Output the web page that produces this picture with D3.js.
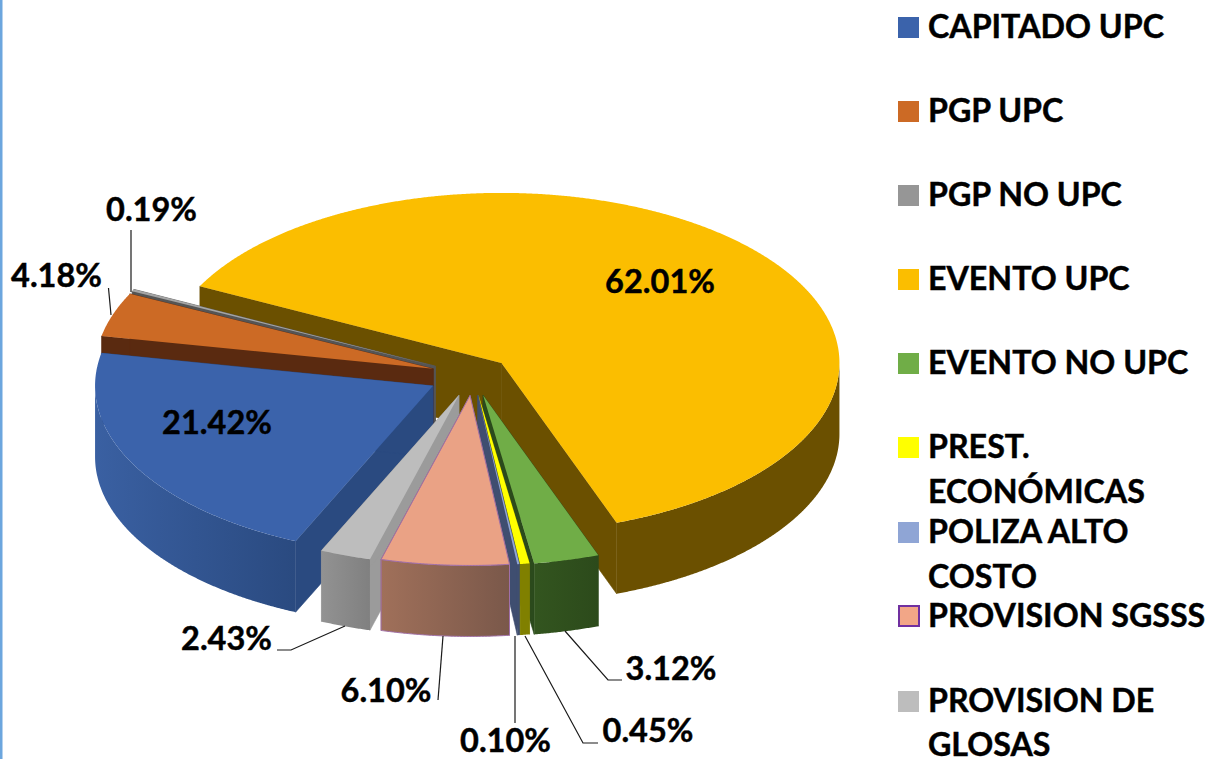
<!DOCTYPE html>
<html>
<head>
<meta charset="utf-8">
<script src="https://cdn.jsdelivr.net/npm/d3@7"></script>
<style>
    html, body { margin: 0; padding: 0; background: #fff; overflow: hidden; }
    text { font-family: Lato, "Open Sans", sans-serif; font-weight: 700; fill: #000; stroke: #000; stroke-width: 0.45px; }
</style>
</head>
<body>
<div id="chart"></div>
<script>
/* Chart data */
var categories = ["CAPITADO UPC", "PGP UPC", "PGP NO UPC", "EVENTO UPC", "EVENTO NO UPC",
                  "PREST. ECONÓMICAS", "POLIZA ALTO COSTO", "PROVISION SGSSS", "PROVISION DE GLOSAS"];
var shares = [21.42, 4.18, 0.19, 62.01, 3.12, 0.45, 0.10, 6.10, 2.43];
var shareLabels = ["21.42%", "4.18%", "0.19%", "62.01%", "3.12%", "0.45%", "0.10%", "6.10%", "2.43%"];
var legendLines = [["CAPITADO UPC"], ["PGP UPC"], ["PGP NO UPC"], ["EVENTO UPC"], ["EVENTO NO UPC"],
                   ["PREST.", "ECONÓMICAS"], ["POLIZA ALTO", "COSTO"], ["PROVISION SGSSS"], ["PROVISION DE", "GLOSAS"]];

/* Look of the slices */
var topColors  = ["#3b63ab", "#cc6a25", "#a5a5a5", "#fbbe00", "#70ad47", "#ffff00", "#8fa5d5", "#eaa285", "#bdbdbd"];
var keyColors  = ["#3b63ab", "#cc6a25", "#969696", "#fbbe00", "#70ad47", "#ffff00", "#8fa5d5", "#f2a687", "#bdbdbd"];
var sideColors = ["#2a4a80", "#5a2a10", "#555555", "#6b5000", "#2b4a1c", "#808000", "#3f4e70", "#8a6050", "#9b9b9b"];
var rimFrom    = ["#3a60a2", "#5a2a10", "#555555", "#6b5000", "#33551f", "#808000", "#3f4e70", "#a0705a", "#929292"];
var rimTo      = ["#2a4a80", "#5a2a10", "#555555", "#6b5000", "#2c4a1b", "#808000", "#3f4e70", "#7a584a", "#808080"];
var explode    = [45, 42, 42, 38, 41, 40, 40, 40, 42];

/* Layout of the labels: text anchor point and leader line */
var labelPos = [[217, 434], [56.5, 287], [151.5, 221], [660, 293], [671, 680], [648, 742], [505.5, 752], [386, 702], [226.5, 650]];
var leaders = [
    null,
    [[108.5, 288], [111, 315]],
    [[131, 230], [131, 292]],
    null,
    [[622, 680], [608, 680], [565, 631]],
    [[598, 743], [583, 743], [525, 636]],
    [[515, 723], [515, 636]],
    [[438, 700], [443, 636]],
    [[277, 650], [291, 650], [345, 626]]
];
var legendBaselines = [[38], [122], [206], [290], [374], [458, 503], [543, 588], [627], [712, 756]];

var width = 1209, height = 759;
var cx = 473, cy = 375.5;   /* centre of the pie before exploding */
var rx = 338, ry = 170;     /* radii of the top ellipse */
var depth = 71;             /* height of the extrusion */
var valueFont = 32.5, legendFont = 32.2;

var svg = d3.select("#chart").append("svg")
    .attr("width", width)
    .attr("height", height)
    .style("display", "block");

var defs = svg.append("defs");

/* Blue rule on the left border of the picture */
svg.append("rect")
    .attr("x", 0).attr("y", 0)
    .attr("width", 2.5).attr("height", height)
    .attr("fill", "#6ca6de");

/* Slice angles, clockwise from the first slice angle */
var firstAngle = 204 * Math.PI / 180;
var arcs = d3.pie().sort(null).value(function (d) { return d; })
    .startAngle(firstAngle)
    .endAngle(firstAngle + 2 * Math.PI)(shares);

var line = d3.line();

/* Point on the ellipse for a slice, seen from the tilted camera */
function rimPoint(apex, a, dy) {
    return [apex[0] + rx * Math.sin(a), apex[1] - ry * Math.cos(a) + dy];
}

function rimPoints(apex, a0, a1, dy) {
    var step = Math.PI / 720;
    return d3.range(a0, a1, step).concat([a1]).map(function (a) { return rimPoint(apex, a, dy); });
}

var slices = arcs.map(function (d, i) {
    var mid = (d.startAngle + d.endAngle) / 2;
    return {
        i: i,
        a0: d.startAngle,
        a1: d.endAngle,
        mid: mid,
        apex: [cx + explode[i] * Math.sin(mid), cy - explode[i] * 0.5 * Math.cos(mid)]
    };
});

/* Paint from the back of the pie to the front */
var order = slices.slice().sort(function (a, b) { return Math.cos(b.mid) - Math.cos(a.mid); });

order.forEach(function (s) {
    var i = s.i;
    var g = svg.append("g").attr("class", "slice");
    var outline = i == 7 ? "#a06fa8" : "none";

    /* Radial walls, stroked in their own colour so that no seam shows */
    [s.a0, s.a1].forEach(function (a) {
        var p = rimPoint(s.apex, a, 0), q = rimPoint(s.apex, a, depth);
        g.append("path")
            .attr("d", line([s.apex, p, q, [s.apex[0], s.apex[1] + depth]]) + "Z")
            .attr("fill", sideColors[i])
            .attr("stroke", sideColors[i])
            .attr("stroke-width", 0.6);
    });

    /* Outer wall, only the part that faces the viewer */
    var angles = d3.range(s.a0, s.a1, Math.PI / 720).concat([s.a1])
        .filter(function (a) { return Math.cos(a) <= 0; });
    if (angles.length > 1) {
        var gradId = "rim" + i;
        var grad = defs.append("linearGradient").attr("id", gradId);
        grad.append("stop").attr("offset", "0%").attr("stop-color", rimFrom[i]);
        grad.append("stop").attr("offset", "100%").attr("stop-color", rimTo[i]);
        var upper = angles.map(function (a) { return rimPoint(s.apex, a, 0); });
        var lower = angles.map(function (a) { return rimPoint(s.apex, a, depth); }).reverse();
        g.append("path")
            .attr("d", line(upper.concat(lower)) + "Z")
            .attr("fill", "url(#" + gradId + ")")
            .attr("stroke", outline)
            .attr("stroke-width", 1);
    }

    /* Top face */
    g.append("path")
        .attr("d", line([s.apex].concat(rimPoints(s.apex, s.a0, s.a1, 0))) + "Z")
        .attr("fill", topColors[i])
        .attr("stroke", outline)
        .attr("stroke-width", 1);
});

/* Leader lines */
leaders.forEach(function (pts) {
    if (!pts) return;
    svg.append("path")
        .attr("d", line(pts))
        .attr("fill", "none")
        .attr("stroke", "#1a1a1a")
        .attr("stroke-width", 1.2);
});

/* Data labels */
svg.selectAll("text.value")
    .data(shareLabels)
    .enter().append("text")
    .attr("class", "value")
    .attr("x", function (d, i) { return labelPos[i][0]; })
    .attr("y", function (d, i) { return labelPos[i][1]; })
    .attr("text-anchor", "middle")
    .attr("font-size", valueFont)
    .text(function (d) { return d; });

/* Legend */
var legend = svg.append("g").attr("class", "legend");
categories.forEach(function (name, i) {
    var base = legendBaselines[i][0];
    legend.append("rect")
        .attr("x", i == 7 ? 899 : 898)
        .attr("y", base - 21)
        .attr("width", i == 7 ? 20 : 21)
        .attr("height", i == 7 ? 20 : 21)
        .attr("fill", keyColors[i])
        .attr("stroke", i == 7 ? "#7030a0" : "none")
        .attr("stroke-width", 2);
    legendLines[i].forEach(function (txt, j) {
        legend.append("text")
            .attr("x", 928)
            .attr("y", legendBaselines[i][j])
            .attr("font-size", legendFont)
            .text(txt);
    });
});
</script>
</body>
</html>
